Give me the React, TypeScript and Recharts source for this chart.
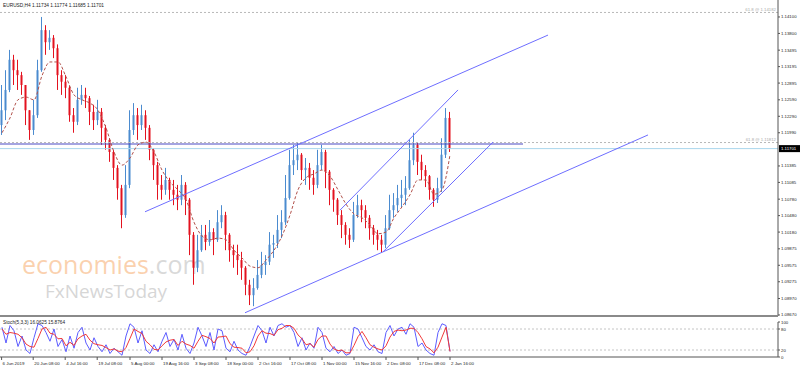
import React from "react";
import { Bar, ComposedChart, Line, ReferenceLine, XAxis, YAxis } from "recharts";

const opens = [
  1.1213, 1.124, 1.1277, 1.1332, 1.1313, 1.1304, 1.1286, 1.124, 1.1204, 1.1231,
  1.1313, 1.1386, 1.1364, 1.1372, 1.1353, 1.1304, 1.1292, 1.1281, 1.1231, 1.1219,
  1.1259, 1.1268, 1.1262, 1.1237, 1.1222, 1.1237, 1.1208, 1.1186, 1.1164, 1.1135,
  1.1098, 1.1049, 1.1104, 1.1204, 1.1231, 1.1213, 1.1231, 1.1208, 1.1168, 1.114,
  1.1104, 1.1095, 1.1113, 1.1095, 1.1086, 1.1077, 1.1104, 1.1077, 1.1013, 1.0953,
  1.0985, 1.1013, 1.1, 1.1018, 1.1004, 1.1036, 1.1049, 1.1013, 1.0985, 1.0976,
  1.0967, 1.0953, 1.0922, 1.0903, 1.0916, 1.094, 1.0958, 1.0964, 1.0995, 1.0998,
  1.1022, 1.1036, 1.108, 1.114, 1.1149, 1.1159, 1.1131, 1.1135, 1.1117, 1.1104,
  1.114, 1.1164, 1.1128, 1.1095, 1.1077, 1.1049, 1.1031, 1.1013, 1.1004, 1.1049,
  1.1067, 1.1058, 1.1044, 1.1025, 1.1013, 1.1004, 1.0995, 1.1025, 1.1058, 1.1067,
  1.108, 1.1086, 1.1098, 1.1149, 1.1177, 1.1146, 1.1131, 1.112, 1.1095, 1.1077,
  1.1098, 1.1159, 1.1226,
];
const highs = [
  1.1286, 1.1313, 1.135, 1.1341, 1.1332, 1.131, 1.1286, 1.124, 1.1259, 1.1332,
  1.141, 1.1395, 1.1386, 1.1377, 1.136, 1.1313, 1.1304, 1.1285, 1.1244, 1.1281,
  1.1286, 1.1281, 1.1266, 1.125, 1.1259, 1.1244, 1.1213, 1.1189, 1.1168, 1.114,
  1.1104, 1.114, 1.124, 1.1253, 1.1244, 1.125, 1.124, 1.1213, 1.1171, 1.1146,
  1.1122, 1.1135, 1.1117, 1.1113, 1.1104, 1.1122, 1.1109, 1.108, 1.1018, 1.1013,
  1.1031, 1.1031, 1.104, 1.1025, 1.1058, 1.1067, 1.1055, 1.1016, 1.0995, 1.0995,
  1.0982, 1.0956, 1.0931, 1.0934, 1.0967, 1.0982, 1.0976, 1.1018, 1.1013, 1.1049,
  1.1058, 1.1122, 1.1168, 1.1177, 1.118, 1.1162, 1.1153, 1.1144, 1.1131, 1.1168,
  1.1177, 1.1168, 1.1131, 1.1098, 1.108, 1.1058, 1.1036, 1.1025, 1.1073, 1.1086,
  1.1077, 1.1067, 1.1049, 1.1031, 1.1022, 1.1013, 1.1049, 1.1086, 1.1089, 1.1104,
  1.1113, 1.112, 1.1186, 1.1199, 1.1182, 1.1159, 1.114, 1.1122, 1.1098, 1.1117,
  1.1189, 1.1244, 1.1237,
];
const lows = [
  1.1195, 1.1222, 1.1273, 1.1286, 1.1277, 1.1268, 1.1213, 1.1186, 1.1195, 1.1226,
  1.131, 1.1341, 1.135, 1.1335, 1.1277, 1.1268, 1.1262, 1.1219, 1.1199, 1.1213,
  1.125, 1.1244, 1.1213, 1.1204, 1.1213, 1.1177, 1.1168, 1.1146, 1.1113, 1.1077,
  1.1025, 1.1044, 1.1098, 1.1195, 1.1186, 1.1204, 1.1186, 1.1149, 1.1113, 1.1077,
  1.1077, 1.1086, 1.1077, 1.1067, 1.1058, 1.1067, 1.1049, 1.0976, 1.0922, 1.0945,
  1.0982, 1.0985, 1.0993, 1.0976, 1.1, 1.1025, 1.0985, 1.0964, 1.0953, 1.094,
  1.0931, 1.0903, 1.0885, 1.0883, 1.0913, 1.0934, 1.094, 1.0958, 1.0971, 1.0989,
  1.1007, 1.1031, 1.1077, 1.1122, 1.1131, 1.1113, 1.1104, 1.1095, 1.1086, 1.1098,
  1.1131, 1.1098, 1.1067, 1.1055, 1.1031, 1.1007, 1.0995, 1.0989, 1.1, 1.1044,
  1.1036, 1.1025, 1.1004, 1.0995, 1.0985, 1.098, 1.0989, 1.1022, 1.1044, 1.1055,
  1.1062, 1.1067, 1.1095, 1.114, 1.1122, 1.1113, 1.11, 1.1077, 1.1064, 1.1071,
  1.1091, 1.1153, 1.1164,
];
const closes = [
  1.124, 1.1277, 1.1332, 1.1313, 1.1304, 1.1286, 1.124, 1.1204, 1.1231, 1.1313,
  1.1386, 1.1364, 1.1372, 1.1353, 1.1304, 1.1292, 1.1281, 1.1231, 1.1219, 1.1259,
  1.1268, 1.1262, 1.1237, 1.1222, 1.1237, 1.1208, 1.1186, 1.1164, 1.1135, 1.1098,
  1.1049, 1.1104, 1.1204, 1.1231, 1.1213, 1.1231, 1.1208, 1.1168, 1.114, 1.1104,
  1.1095, 1.1113, 1.1095, 1.1086, 1.1077, 1.1104, 1.1077, 1.1013, 1.0953, 1.0985,
  1.1013, 1.1, 1.1018, 1.1004, 1.1036, 1.1049, 1.1013, 1.0985, 1.0976, 1.0967,
  1.0953, 1.0922, 1.0903, 1.0916, 1.094, 1.0958, 1.0964, 1.0995, 1.0998, 1.1022,
  1.1036, 1.108, 1.114, 1.1149, 1.1159, 1.1131, 1.1135, 1.1117, 1.1104, 1.114,
  1.1164, 1.1128, 1.1095, 1.1077, 1.1049, 1.1031, 1.1013, 1.1004, 1.1049, 1.1067,
  1.1058, 1.1044, 1.1025, 1.1013, 1.1004, 1.0995, 1.1025, 1.1058, 1.1067, 1.108,
  1.1086, 1.1098, 1.1149, 1.1177, 1.1146, 1.1131, 1.112, 1.1095, 1.1077, 1.1098,
  1.1159, 1.1226, 1.11701,
];
// moving average, one reading every second candle
const maValues = [
  1.1199, 1.1226, 1.1259, 1.1264, 1.1259, 1.1303, 1.1328, 1.1328, 1.1301, 1.1268,
  1.1259, 1.1253, 1.124, 1.1208, 1.1164, 1.114, 1.1153, 1.1177, 1.1182, 1.1164,
  1.1131, 1.1109, 1.1095, 1.1077, 1.1036, 1.1011, 1.1004, 1.1007, 1.1004, 1.0985,
  1.0971, 1.0956, 1.0953, 1.0967, 1.0985, 1.1011, 1.1049, 1.1095, 1.1117, 1.1124,
  1.1131, 1.112, 1.1095, 1.1069, 1.1051, 1.1044, 1.1031, 1.1015, 1.1018, 1.1044,
  1.1064, 1.1086, 1.1113, 1.1113, 1.1087, 1.1095, 1.1159,
];
const stochMain = [
  85, 40, 90, 75, 30, 60, 20, 10, 55, 95,
  90, 70, 45, 80, 30, 50, 15, 60, 25, 70,
  85, 40, 20, 55, 30, 15, 35, 10, 25, 15,
  5, 60, 95, 85, 40, 75, 20, 10, 35, 15,
  45, 70, 30, 50, 20, 65, 25, 10, 40, 85,
  60, 30, 70, 20, 80, 75, 25, 15, 45, 20,
  10, 5, 30, 60, 90, 75, 40, 85, 60, 90,
  95, 85, 90, 70, 30, 55, 20, 40, 25, 85,
  70, 25, 15, 30, 10, 20, 5, 10, 85, 80,
  55, 30, 20, 35, 15, 10, 70, 90, 60, 80,
  85, 65, 95, 85, 30, 40, 20, 10, 5, 70,
  95, 90, 16.06,
];
const stochSignal = [
  80, 65, 70, 68, 65, 55, 37, 30, 28, 53,
  80, 85, 68, 65, 52, 53, 32, 42, 33, 52,
  60, 65, 48, 38, 35, 33, 27, 20, 23, 17,
  15, 27, 53, 80, 73, 67, 45, 35, 22, 20,
  32, 43, 48, 50, 33, 45, 37, 33, 25, 45,
  62, 58, 53, 40, 57, 58, 60, 38, 28, 27,
  25, 12, 15, 32, 60, 75, 68, 67, 62, 78,
  82, 90, 90, 82, 63, 52, 35, 38, 28, 50,
  60, 60, 37, 23, 18, 20, 12, 12, 33, 58,
  73, 55, 35, 28, 23, 20, 32, 57, 73, 77,
  75, 77, 82, 82, 70, 52, 30, 23, 12, 28,
  57, 85, 15.88,
];
const xTickPos = [-0.1, 7.8, 15.8, 23.8, 32, 40, 48, 56, 64, 72, 80, 88, 96, 104, 112];
const xTickLabels = [
  "6 Jun 2019", "20 Jun 08:00", "4 Jul 16:00", "19 Jul 08:00", "5 Aug 00:00",
  "19 Aug 16:00", "3 Sep 08:00", "18 Sep 00:00", "2 Oct 16:00", "17 Oct 08:00",
  "1 Nov 00:00", "15 Nov 16:00", "2 Dec 08:00", "17 Dec 08:00", "2 Jan 16:00",
];
const priceTicks = [
  1.141, 1.138, 1.13495, 1.13195, 1.12895, 1.1259, 1.1229, 1.1199, 1.11385,
  1.11085, 1.1078, 1.1048, 1.1018, 1.09875, 1.09575, 1.09275, 1.0897, 1.0867,
];
// trendlines as [startIndex, startPrice, endIndex, endPrice]
const channelLines = [
  [35.75, 1.1055, 136.5, 1.1377],
  [60.75, 1.0871, 161.5, 1.1195],
  [84.5, 1.1058, 114, 1.1277],
  [95.25, 1.0982, 122.75, 1.1182],
];
const resistance = [-0.5, 1.11785, 130.25, 1.11785];
const fibLevels = [1.14182, 1.11812];
const lastPrice = 1.11701;

const rows = opens.map((o, i) => ({
  i,
  open: o,
  high: highs[i],
  low: lows[i],
  close: closes[i],
  range: [lows[i], highs[i]],
  main: stochMain[i],
  signal: stochSignal[i],
}));
const maRows = maValues.map((v, k) => ({ i: k * 2, ma: v }));

const BULL = "#4b8bcf";
const BEAR = "#e3121f";
const LINE = "#6e6eff";
const FONT = '"Liberation Sans", Arial, sans-serif';
const X_DOMAIN: [number, number] = [-0.5, 194];

const Candle = (props: any) => {
  const { x, y, width, height, payload } = props;
  if (!payload || height == null) return null;
  const top = Math.min(y, y + height);
  const h = Math.abs(height);
  const k = h / (payload.high - payload.low || 1);
  const up = payload.close >= payload.open;
  const color = up ? BULL : BEAR;
  const cx = x + width / 2;
  const bodyTop = top + (payload.high - Math.max(payload.open, payload.close)) * k;
  const bodyH = Math.max(1, Math.abs(payload.open - payload.close) * k);
  return (
    <g>
      <line x1={cx} x2={cx} y1={top} y2={top + h} stroke={color} strokeWidth={1} />
      <rect x={cx - 1} y={bodyTop} width={2} height={bodyH} fill={color} />
    </g>
  );
};

const FibLabel = (props: any) => {
  const vb = props.viewBox || {};
  const xr = (vb.x ?? 0) + (vb.width ?? 0);
  return (
    <text x={xr - 2} y={(vb.y ?? 0) - 1.5} textAnchor="end" fontSize={4.3} fill="#aaa" fontFamily={FONT}>
      {props.text}
    </text>
  );
};

const PriceTag = (props: any) => {
  const vb = props.viewBox || {};
  const xr = (vb.x ?? 0) + (vb.width ?? 0);
  const y = vb.y ?? 0;
  return (
    <g>
      <rect x={xr + 1} y={y - 3.5} width={21} height={7} fill="#000" />
      <text x={xr + 3} y={y + 1.6} fontSize={4.3} fill="#fff" fontFamily={FONT}>
        {props.text}
      </text>
    </g>
  );
};

const XTick = (props: any) => {
  const { x, y, payload } = props;
  const idx = xTickPos.indexOf(payload.value);
  return (
    <text x={x + 1} y={y} dy="0.71em" fontSize={4.4} fill="#222" fontFamily={FONT}>
      {xTickLabels[idx] ?? ""}
    </text>
  );
};

export default function App() {
  return (
    <div style={{ position: "fixed", left: 0, top: 0, width: 800, height: 372, background: "#fff", fontFamily: FONT }}>
      <svg width={800} height={372} style={{ position: "absolute", left: 0, top: 0 }}>
        <text x={22} y={274} fontSize={25} fontFamily='"Open Sans", sans-serif' fill="#f6a35e" fillOpacity={0.5}>
          economies<tspan fill="#cfcfcf" fillOpacity={0.8}>.com</tspan>
        </text>
        <text x={45} y={298} fontSize={19} fontFamily='"Open Sans", sans-serif' fill="#c4c4c4" fillOpacity={0.7}>
          FxNewsToday
        </text>
      </svg>
      <div style={{ position: "absolute", left: 0, top: 0 }}>
        <ComposedChart width={800} height={316} data={rows} margin={{ top: 0, right: 0, bottom: 0, left: 0 }}>
          <XAxis type="number" dataKey="i" domain={X_DOMAIN} hide allowDataOverflow />
          <YAxis
            orientation="right"
            width={22}
            domain={[1.08651, 1.14409]}
            allowDataOverflow
            ticks={priceTicks}
            interval={0}
            tickFormatter={(v: number) => v.toFixed(5)}
            tick={{ fontSize: 4.3, fill: "#222", fontFamily: FONT }}
            tickSize={2}
            tickMargin={1}
            axisLine={{ stroke: "#555" }}
            tickLine={{ stroke: "#555" }}
          />
          {fibLevels.map((f, k) => (
            <ReferenceLine
              key={"fib" + k}
              y={f}
              stroke="#b8b8b8"
              strokeDasharray="2 2"
              label={<FibLabel text={"61.8 @ " + f.toFixed(5)} />}
            />
          ))}
          <ReferenceLine y={lastPrice} stroke="#a9d6ec" label={<PriceTag text={lastPrice.toFixed(5)} />} />
          <ReferenceLine
            segment={[
              { x: resistance[0], y: resistance[1] },
              { x: resistance[2], y: resistance[3] },
            ]}
            stroke="#4a4ac4"
            strokeWidth={1.2}
            ifOverflow="visible"
          />
          {channelLines.map((s, k) => (
            <ReferenceLine
              key={"ch" + k}
              segment={[
                { x: s[0], y: s[1] },
                { x: s[2], y: s[3] },
              ]}
              stroke={LINE}
              strokeWidth={1}
              ifOverflow="visible"
            />
          ))}
          <Bar dataKey="range" barSize={3} shape={(p: any) => <Candle {...p} />} isAnimationActive={false} />
          <Line
            data={maRows}
            dataKey="ma"
            type="monotone"
            stroke="#b2524c"
            strokeDasharray="3 2"
            strokeWidth={1}
            dot={false}
            activeDot={false}
            isAnimationActive={false}
          />
        </ComposedChart>
      </div>
      <div style={{ position: "absolute", left: 0, top: 315, width: 778, height: 2, background: "#8a8a8a" }} />
      <div style={{ position: "absolute", left: 0, top: 318 }}>
        <ComposedChart width={800} height={54} data={rows} margin={{ top: 4, right: 0, bottom: 0, left: 0 }}>
          <XAxis
            type="number"
            dataKey="i"
            domain={X_DOMAIN}
            allowDataOverflow
            ticks={xTickPos}
            interval={0}
            height={15}
            tickSize={3}
            tick={<XTick />}
            axisLine={{ stroke: "#555" }}
            tickLine={{ stroke: "#555" }}
          />
          <YAxis
            orientation="right"
            width={22}
            domain={[0, 100]}
            ticks={[0, 20, 80, 100]}
            interval={0}
            tick={{ fontSize: 4.3, fill: "#222", fontFamily: FONT }}
            tickSize={2}
            tickMargin={1}
            axisLine={{ stroke: "#555" }}
            tickLine={{ stroke: "#555" }}
          />
          <ReferenceLine y={80} stroke="#c4c4c4" strokeDasharray="2 2" />
          <ReferenceLine y={20} stroke="#c4c4c4" strokeDasharray="2 2" />
          <Line dataKey="main" type="linear" stroke="#5c5cff" strokeWidth={1} dot={false} isAnimationActive={false} />
          <Line dataKey="signal" type="linear" stroke="#f03a3a" strokeWidth={1} dot={false} isAnimationActive={false} />
        </ComposedChart>
      </div>
      <svg width={800} height={372} style={{ position: "absolute", left: 0, top: 0, pointerEvents: "none" }}>
        <text x={3} y={6.5} fontSize={4.8} fill="#222" fontFamily={FONT}>
          EURUSD,H4  1.11734 1.11774 1.11685 1.11701
        </text>
        <text x={3} y={324} fontSize={4.7} fill="#222" fontFamily={FONT}>
          Stoch(5,3,3) 16.0625 15.8764
        </text>
      </svg>
    </div>
  );
}
